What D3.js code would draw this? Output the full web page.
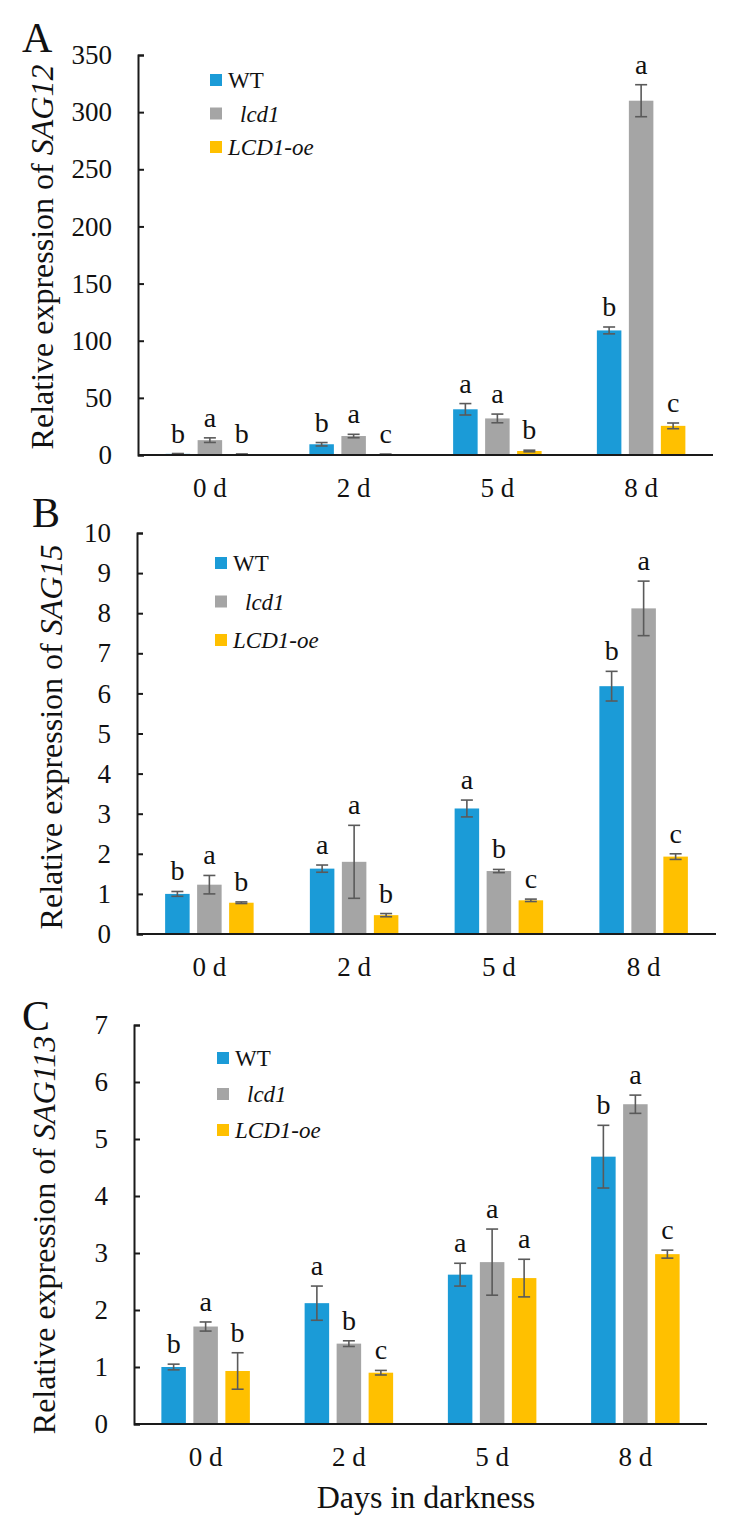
<!DOCTYPE html>
<html><head><meta charset="utf-8">
<script src="https://cdn.jsdelivr.net/npm/d3@7"></script>
<style>
body{margin:0;background:#fff;}
svg text{font-family:"Liberation Serif","DejaVu Serif",serif;}
</style></head>
<body>
<svg id="chart" width="735" height="1531" font-family="Liberation Serif, DejaVu Serif, serif"></svg>
<script>
// ---- data ----
const categories = ["0 d", "2 d", "5 d", "8 d"];
const seriesNames = ["WT", "lcd1", "LCD1-oe"];
const seriesItalic = [false, true, true];
const seriesColors = ["#1B9BD7", "#A5A5A5", "#FFC000"];

// A: SAG12
const sag12WT = [1.0, 9.4, 40, 109];
const sag12WTErr = [0.3, 1.5, 5, 3];
const sag12WTLetters = ["b", "b", "a", "b"];
const sag12Lcd1 = [13, 16.6, 32, 310];
const sag12Lcd1Err = [2, 1.5, 3.8, 14];
const sag12Lcd1Letters = ["a", "a", "a", "a"];
const sag12Oe = [0.6, 0.5, 3.5, 25.5];
const sag12OeErr = [0.3, 0.3, 0.7, 2.5];
const sag12OeLetters = ["b", "c", "b", "c"];
const sag12Ticks = [0, 50, 100, 150, 200, 250, 300, 350];

// B: SAG15
const sag15WT = [1.0, 1.63, 3.13, 6.18];
const sag15WTErr = [0.06, 0.09, 0.21, 0.37];
const sag15WTLetters = ["b", "a", "a", "b"];
const sag15Lcd1 = [1.23, 1.8, 1.57, 8.12];
const sag15Lcd1Err = [0.23, 0.91, 0.04, 0.68];
const sag15Lcd1Letters = ["a", "a", "b", "a"];
const sag15Oe = [0.78, 0.47, 0.84, 1.93];
const sag15OeErr = [0.02, 0.04, 0.03, 0.07];
const sag15OeLetters = ["b", "b", "c", "c"];
const sag15Ticks = [0, 1, 2, 3, 4, 5, 6, 7, 8, 9, 10];

// C: SAG113
const sag113WT = [1.0, 2.12, 2.62, 4.69];
const sag113WTErr = [0.05, 0.30, 0.20, 0.55];
const sag113WTLetters = ["b", "a", "a", "b"];
const sag113Lcd1 = [1.71, 1.41, 2.84, 5.61];
const sag113Lcd1Err = [0.08, 0.05, 0.58, 0.16];
const sag113Lcd1Letters = ["a", "b", "a", "a"];
const sag113Oe = [0.93, 0.90, 2.56, 2.98];
const sag113OeErr = [0.32, 0.04, 0.33, 0.07];
const sag113OeLetters = ["b", "c", "a", "c"];
const sag113Ticks = [0, 1, 2, 3, 4, 5, 6, 7];

const xTitle = "Days in darkness";

// ---- panels (built from arrays) ----
const panels = [
  {label: "A", gene: "SAG12", ticks: sag12Ticks,
   values: [sag12WT, sag12Lcd1, sag12Oe], errs: [sag12WTErr, sag12Lcd1Err, sag12OeErr],
   letters: [sag12WTLetters, sag12Lcd1Letters, sag12OeLetters],
   L: {x0: 138, x1: 713, yBot: 455, yTop: 55, lx: 22, ly: 52, tx: 53, ty: 257, legX: 210, legY: 80, legGap: 33.5}},
  {label: "B", gene: "SAG15", ticks: sag15Ticks,
   values: [sag15WT, sag15Lcd1, sag15Oe], errs: [sag15WTErr, sag15Lcd1Err, sag15OeErr],
   letters: [sag15WTLetters, sag15Lcd1Letters, sag15OeLetters],
   L: {x0: 137, x1: 716, yBot: 934, yTop: 533, lx: 32, ly: 527, tx: 62, ty: 737, legX: 215, legY: 563, legGap: 38.5}},
  {label: "C", gene: "SAG113", ticks: sag113Ticks,
   values: [sag113WT, sag113Lcd1, sag113Oe], errs: [sag113WTErr, sag113Lcd1Err, sag113OeErr],
   letters: [sag113WTLetters, sag113Lcd1Letters, sag113OeLetters],
   L: {x0: 134, x1: 707, yBot: 1424, yTop: 1025, lx: 22, ly: 1030, tx: 55, ty: 1235, legX: 217, legY: 1058, legGap: 36}}
];

const FONT = "Liberation Serif, DejaVu Serif, serif";
const svg = d3.select("#chart");
const axisColor = "#1a1a1a";
const errColor = "#5a5a5a";

panels.forEach(p => {
  const L = p.L;
  const g = svg.append("g").attr("font-family", FONT);
  const x0 = d3.scaleBand().domain(categories).range([L.x0, L.x1]).paddingInner(0).paddingOuter(0);
  const x1 = d3.scaleBand().domain(seriesNames).range([-44.25, 44.25]).paddingInner(0.234).paddingOuter(0);
  const y = d3.scaleLinear().domain([0, d3.max(p.ticks)]).range([L.yBot, L.yTop]);

  // y axis (inward ticks)
  const yAxis = d3.axisRight(y).tickValues(p.ticks).tickSize(6).tickFormat("");
  const ya = g.append("g").attr("transform", `translate(${L.x0},0)`).call(yAxis);
  ya.attr("font-family", FONT);
  ya.selectAll("path").attr("stroke", axisColor).attr("stroke-width", 2);
  ya.selectAll("line").attr("stroke", axisColor).attr("stroke-width", 2);
  // tick labels
  g.selectAll("text.ytick").data(p.ticks).join("text")
    .attr("class", "ytick")
    .attr("x", L.x0 - 26).attr("y", d => y(d))
    .attr("dy", "0.34em").attr("text-anchor", "end")
    .attr("font-size", 27).attr("fill", "#111")
    .text(d => d);

  // bars
  const rows = [];
  categories.forEach((c, i) => {
    seriesNames.forEach((s, j) => {
      rows.push({cat: c, s: s, j: j, v: p.values[j][i], e: p.errs[j][i], l: p.letters[j][i]});
    });
  });
  const cx = d => x0(d.cat) + x0.bandwidth() / 2 + x1(d.s) + x1.bandwidth() / 2;

  g.selectAll("rect.bar").data(rows).join("rect")
    .attr("class", "bar")
    .attr("x", d => cx(d) - x1.bandwidth() / 2)
    .attr("width", x1.bandwidth())
    .attr("y", d => y(d.v))
    .attr("height", d => y(0) - y(d.v))
    .attr("fill", d => seriesColors[d.j]);

  // error bars
  const eg = g.selectAll("g.err").data(rows).join("g").attr("class", "err")
    .attr("stroke", errColor).attr("stroke-width", 1.6);
  eg.append("line").attr("x1", cx).attr("x2", cx)
    .attr("y1", d => y(d.v + d.e)).attr("y2", d => y(Math.max(0, d.v - d.e)));
  eg.append("line").attr("x1", d => cx(d) - 6).attr("x2", d => cx(d) + 6)
    .attr("y1", d => y(d.v + d.e)).attr("y2", d => y(d.v + d.e));
  eg.append("line").attr("x1", d => cx(d) - 6).attr("x2", d => cx(d) + 6)
    .attr("y1", d => y(Math.max(0, d.v - d.e))).attr("y2", d => y(Math.max(0, d.v - d.e)));

  // significance letters
  g.selectAll("text.sig").data(rows).join("text")
    .attr("class", "sig")
    .attr("x", cx).attr("y", d => y(d.v + d.e) - 11)
    .attr("text-anchor", "middle").attr("font-size", 28).attr("fill", "#111")
    .text(d => d.l);

  // x axis line
  g.append("line").attr("x1", L.x0).attr("x2", L.x1)
    .attr("y1", L.yBot).attr("y2", L.yBot)
    .attr("stroke", axisColor).attr("stroke-width", 2);
  // category labels
  g.selectAll("text.cat").data(categories).join("text")
    .attr("class", "cat")
    .attr("x", d => x0(d) + x0.bandwidth() / 2).attr("y", L.yBot + 42)
    .attr("text-anchor", "middle").attr("font-size", 27).attr("fill", "#111")
    .text(d => d);

  // panel letter
  g.append("text").attr("x", L.lx).attr("y", L.ly)
    .attr("font-size", 42).attr("fill", "#111").text(p.label);

  // y title
  const yt = g.append("text")
    .attr("transform", `translate(${L.tx},${L.ty}) rotate(-90)`)
    .attr("text-anchor", "middle").attr("font-size", 32).attr("fill", "#111");
  yt.append("tspan").text("Relative expression of ");
  yt.append("tspan").attr("font-style", "italic").text(p.gene);

  // legend
  const lg = g.selectAll("g.leg").data(seriesNames).join("g").attr("class", "leg")
    .attr("transform", (d, i) => `translate(${L.legX},${L.legY + i * L.legGap})`);
  lg.append("rect").attr("x", 0).attr("y", -6).attr("width", 12).attr("height", 12)
    .attr("fill", (d, i) => seriesColors[i]);
  lg.append("text").attr("x", (d, i) => i === 1 ? 30 : 18).attr("y", 8)
    .attr("font-size", 23).attr("fill", "#111")
    .attr("font-style", (d, i) => seriesItalic[i] ? "italic" : "normal")
    .text(d => d);
});

// x title
svg.append("text").attr("x", 426).attr("y", 1508).attr("text-anchor", "middle")
  .attr("font-family", FONT)
  .attr("font-size", 32).attr("fill", "#111").text(xTitle);
</script>
</body></html>
